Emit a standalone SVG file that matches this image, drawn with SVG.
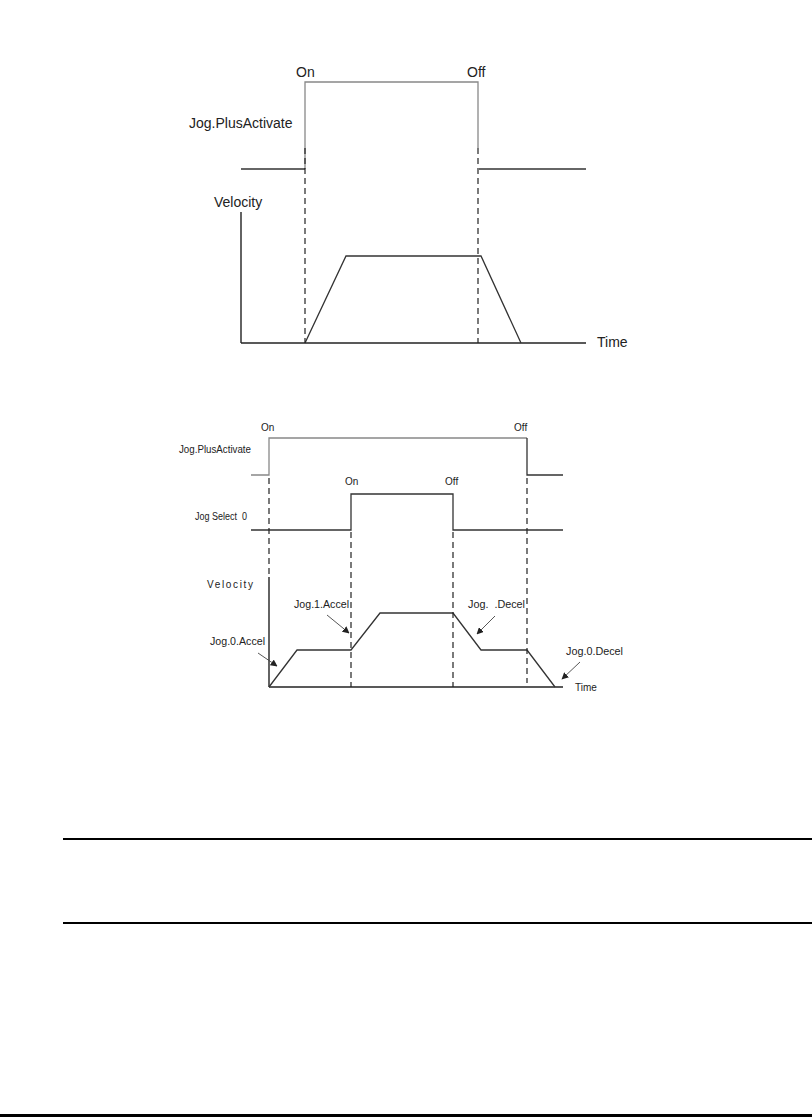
<svg xmlns="http://www.w3.org/2000/svg" width="812" height="1117" viewBox="0 0 812 1117">
<style>
.sig{fill:none;stroke:#333;stroke-width:1.3}
.gr{fill:none;stroke:#888;stroke-width:1.3}
.dash{fill:none;stroke:#222;stroke-width:1.2;stroke-dasharray:6 4}
.ax{fill:none;stroke:#222;stroke-width:1.4}
.lbl{font-family:"Liberation Sans",Arial,sans-serif;font-size:14px;fill:#222}
.sm{font-family:"Liberation Sans",Arial,sans-serif;font-size:10px;fill:#222;white-space:pre}
.arr{fill:none;stroke:#444;stroke-width:0.9;marker-end:url(#ah)}
.rule{stroke:#000;stroke-width:2}
</style>
<defs>
<marker id="ah" viewBox="0 0 10 10" refX="9" refY="5" markerWidth="7" markerHeight="7" orient="auto" markerUnits="userSpaceOnUse">
<path d="M0,0 L10,5 L0,10 z" fill="#222"/>
</marker>
</defs>

<g id="diagram1">
<g id="d1-signal">
<polyline class="gr" points="305,169 305,82 478,82 478,148"/>
<line class="sig" x1="241" y1="169" x2="305" y2="169"/>
<line class="sig" x1="479" y1="169" x2="586" y2="169"/>
<text class="lbl" x="296" y="77">On</text>
<text class="lbl" x="467" y="77">Off</text>
<text class="lbl" x="189" y="128">Jog.PlusActivate</text>
</g>
<g id="d1-velocity">
<line class="ax" x1="241" y1="212" x2="241" y2="343"/>
<line class="ax" x1="241" y1="343" x2="586" y2="343"/>
<polyline class="sig" points="305,343 346,256 481,256 521,343"/>
<text class="lbl" x="214" y="207">Velocity</text>
<text class="lbl" x="597" y="347">Time</text>
</g>
</g>

<g id="diagram2">
<g id="d2-plus">
<polyline class="gr" points="251,475 269,475 269,438 527,438"/>
<polyline class="sig" points="527,438 527,475 563,475"/>
<text class="sm" x="261" y="431" font-size="11.5">On</text>
<text class="sm" x="514" y="431" font-size="11.5">Off</text>
<text class="sm" x="179" y="453" textLength="72" lengthAdjust="spacingAndGlyphs">Jog.PlusActivate</text>
</g>
<g id="d2-select">
<polyline class="sig" points="251,530 351,530 351,494 453,494 453,530 563,530"/>
<text class="sm" x="345" y="485" font-size="11.5">On</text>
<text class="sm" x="445" y="485" font-size="11.5">Off</text>
<text class="sm" x="195" y="520" textLength="52" lengthAdjust="spacingAndGlyphs" xml:space="preserve">Jog Select  0</text>
</g>
<g id="d2-velocity">
<line class="ax" x1="269" y1="577" x2="269" y2="687"/>
<line class="ax" x1="269" y1="687" x2="563" y2="687"/>
<polyline class="sig" points="269,687 297,650 351,650 380,613 453,613 481,650 527,650 555,687"/>
<text class="sm" x="207" y="588" font-size="11" textLength="46" lengthAdjust="spacing">Velocity</text>
<text class="sm" x="575" y="691" font-size="11">Time</text>
</g>
<g id="d2-labels">
<text class="sm" x="210" y="645" textLength="55" lengthAdjust="spacingAndGlyphs">Jog.0.Accel</text>
<text class="sm" x="294" y="608" textLength="55" lengthAdjust="spacingAndGlyphs">Jog.1.Accel</text>
<text class="sm" x="468" y="608" textLength="57" lengthAdjust="spacingAndGlyphs" xml:space="preserve">Jog.  .Decel</text>
<text class="sm" x="566" y="655" textLength="57" lengthAdjust="spacingAndGlyphs">Jog.0.Decel</text>
</g>
</g>

<g id="connectors">
<line class="dash" x1="305" y1="148" x2="305" y2="343"/>
<line class="dash" x1="478" y1="148" x2="478" y2="343"/>
<line class="dash" x1="269" y1="478" x2="269" y2="576"/>
<line class="dash" x1="351" y1="532" x2="351" y2="687"/>
<line class="dash" x1="453" y1="532" x2="453" y2="687"/>
<line class="dash" x1="527" y1="478" x2="527" y2="683"/>
<line class="arr" x1="258" y1="653" x2="277" y2="666"/>
<line class="arr" x1="327" y1="615" x2="349" y2="633"/>
<line class="arr" x1="495" y1="616" x2="477" y2="634"/>
<line class="arr" x1="580" y1="662" x2="562" y2="679"/>
</g>

<g id="rules">
<line class="rule" x1="63" y1="839" x2="812" y2="839"/>
<line class="rule" x1="63" y1="923" x2="812" y2="923"/>
<rect x="0" y="1114" width="812" height="3" fill="#000"/>
</g>
</svg>
